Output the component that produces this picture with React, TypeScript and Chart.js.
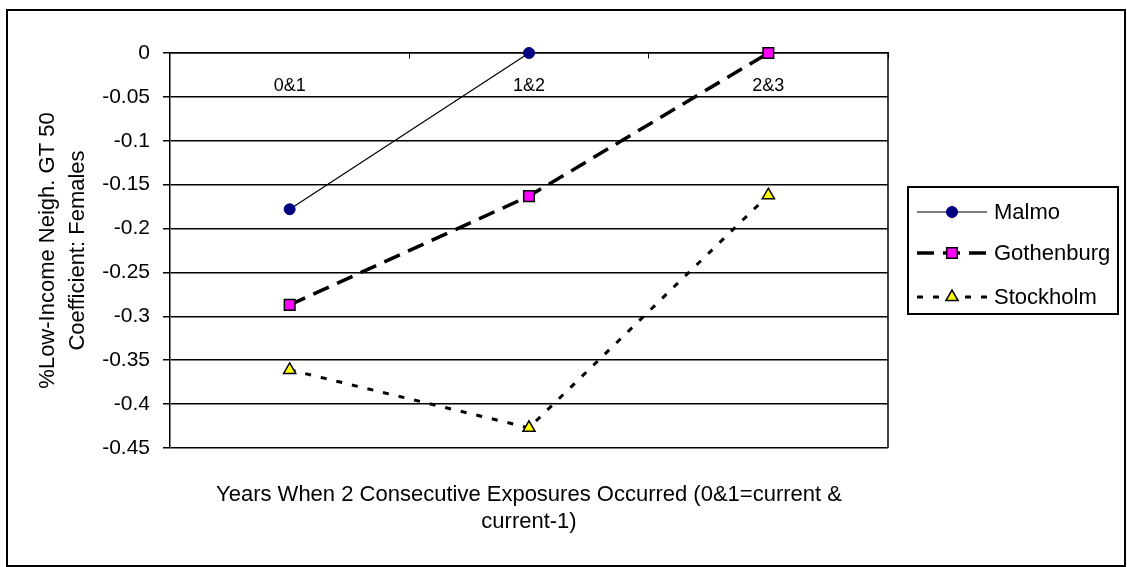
import React, { useEffect, useRef } from "react";
import { Chart, registerables } from "chart.js";

Chart.register(...registerables);

const categories = ["0&1", "1&2", "2&3"];
const seriesNames = ["Malmo", "Gothenburg", "Stockholm"];
const malmo = [-0.178, 0.0, null];
const gothenburg = [-0.287, -0.163, 0.0];
const stockholm = [-0.361, -0.427, -0.162];
const yMin = -0.45;
const yMax = 0;
const yStep = 0.05;
const yTitle = ["%Low-Income Neigh. GT 50", "Coefficient: Females"];
const xTitle = ["Years When 2 Consecutive Exposures Occurred (0&1=current &", "current-1)"];

const FONT = "'Liberation Sans', Arial, sans-serif";

function drawMarker(ctx: CanvasRenderingContext2D, style: string, x: number, y: number, r: number, fill: string, stroke: string, bw: number) {
  ctx.save();
  ctx.setLineDash([]);
  ctx.fillStyle = fill;
  ctx.strokeStyle = stroke;
  ctx.lineWidth = bw;
  ctx.beginPath();
  if (style === "circle") {
    ctx.arc(x, y, r, 0, Math.PI * 2);
  } else if (style === "rect") {
    const s = r * Math.SQRT1_2;
    ctx.rect(x - s, y - s, 2 * s, 2 * s);
  } else {
    let rad = 0;
    ctx.moveTo(x + Math.sin(rad) * r, y - Math.cos(rad) * r);
    rad += (2 * Math.PI) / 3;
    ctx.lineTo(x + Math.sin(rad) * r, y - Math.cos(rad) * r);
    rad += (2 * Math.PI) / 3;
    ctx.lineTo(x + Math.sin(rad) * r, y - Math.cos(rad) * r);
    ctx.closePath();
  }
  ctx.fill();
  ctx.stroke();
  ctx.restore();
}

const framePlugin = {
  id: "frame",
  afterDraw(chart: any) {
    const ctx = chart.ctx as CanvasRenderingContext2D;
    const ca = chart.chartArea;
    ctx.save();
    ctx.strokeStyle = "#000";
    ctx.lineWidth = 2;
    ctx.strokeRect(7, 10, 1118, 556);
    ctx.lineWidth = 1.5;
    ctx.beginPath();
    ctx.moveTo(ca.right, ca.top);
    ctx.lineTo(ca.right, ca.bottom);
    ctx.stroke();
    const lx = 908, ly = 187, lw = 210, lh = 127;
    ctx.lineWidth = 2;
    ctx.strokeRect(lx, ly, lw, lh);
    const rows = [212, 253, 297];
    chart.data.datasets.forEach((ds: any, i: number) => {
      const y = rows[i];
      ctx.save();
      ctx.strokeStyle = ds.borderColor;
      ctx.lineWidth = ds.borderWidth;
      ctx.setLineDash(ds.borderDash || []);
      ctx.beginPath();
      ctx.moveTo(917, y);
      ctx.lineTo(987, y);
      ctx.stroke();
      ctx.restore();
      drawMarker(ctx, ds.pointStyle, 952, y, ds.pointRadius, ds.pointBackgroundColor, ds.pointBorderColor, ds.pointBorderWidth);
      ctx.fillStyle = "#000";
      ctx.font = `22px ${FONT}`;
      ctx.textBaseline = "middle";
      ctx.textAlign = "left";
      ctx.fillText(ds.label, 994, y + 1);
    });
    ctx.restore();
  },
};

export default function App() {
  const ref = useRef<HTMLCanvasElement>(null);
  useEffect(() => {
    if (!ref.current) return;
    Chart.defaults.font.family = FONT;
    Chart.defaults.color = "#000";
    const chart = new Chart(ref.current, {
      type: "line",
      data: {
        labels: categories,
        datasets: [
          {
            label: seriesNames[0],
            data: malmo,
            borderColor: "#000",
            borderWidth: 1.2,
            pointStyle: "circle",
            pointRadius: 5.5,
            pointBackgroundColor: "#000080",
            pointBorderColor: "#000080",
            pointBorderWidth: 1,
            clip: false,
          },
          {
            label: seriesNames[1],
            data: gothenburg,
            borderColor: "#000",
            borderWidth: 3.5,
            borderDash: [17, 9],
            pointStyle: "rect",
            pointRadius: 7.5,
            pointBackgroundColor: "#FF00FF",
            pointBorderColor: "#000",
            pointBorderWidth: 1.5,
            clip: false,
          },
          {
            label: seriesNames[2],
            data: stockholm,
            borderColor: "#000",
            borderWidth: 3,
            borderDash: [6, 10],
            pointStyle: "triangle",
            pointRadius: 7,
            pointBackgroundColor: "#FFFF00",
            pointBorderColor: "#000",
            pointBorderWidth: 1.5,
            clip: false,
          },
        ] as any,
      },
      options: {
        responsive: false,
        animation: false,
        layout: { padding: { left: 0, top: 53, right: 239, bottom: 0 } },
        plugins: { legend: { display: false }, tooltip: { enabled: false } },
        scales: {
          x: {
            type: "category",
            position: { y: 0 } as any,
            offset: true,
            grid: {
              display: true,
              drawOnChartArea: false,
              drawTicks: true,
              tickLength: 5,
              offset: true,
              color: "#000",
              lineWidth: 1,
            },
            border: { display: true, color: "#000", width: 1.5 },
            ticks: { font: { size: 18 }, color: "#000", padding: 17, maxRotation: 0 },
          },
          x2: {
            type: "category",
            position: "bottom",
            labels: categories,
            grid: { display: false },
            border: { display: false },
            ticks: { display: false },
            title: {
              display: true,
              text: xTitle,
              font: { size: 22, lineHeight: 1.25 },
              color: "#000",
              padding: { top: 0, bottom: 31 },
            },
            afterFit: (scale: any) => {
              scale.height = 119;
            },
          },
          y: {
            type: "linear",
            min: yMin,
            max: yMax,
            ticks: {
              stepSize: yStep,
              font: { size: 21 },
              color: "#000",
              padding: 13,
              callback: (v: any) => String(parseFloat(Number(v).toFixed(2))),
            },
            grid: { color: "#000", lineWidth: 1.5, drawTicks: true, tickLength: 7 },
            border: { display: true, color: "#000", width: 1.5 },
            title: {
              display: true,
              text: yTitle,
              font: { size: 22, lineHeight: 1.36 },
              color: "#000",
              padding: { top: 33, bottom: 0 },
            },
            afterFit: (scale: any) => {
              scale.width = 170;
            },
          },
        },
      } as any,
      plugins: [framePlugin],
    });
    return () => chart.destroy();
  }, []);
  return (
    <div style={{ position: "fixed", left: 0, top: 0, width: 1127, height: 567, background: "#fff" }}>
      <canvas ref={ref} width={1127} height={567} style={{ display: "block" }} />
    </div>
  );
}
